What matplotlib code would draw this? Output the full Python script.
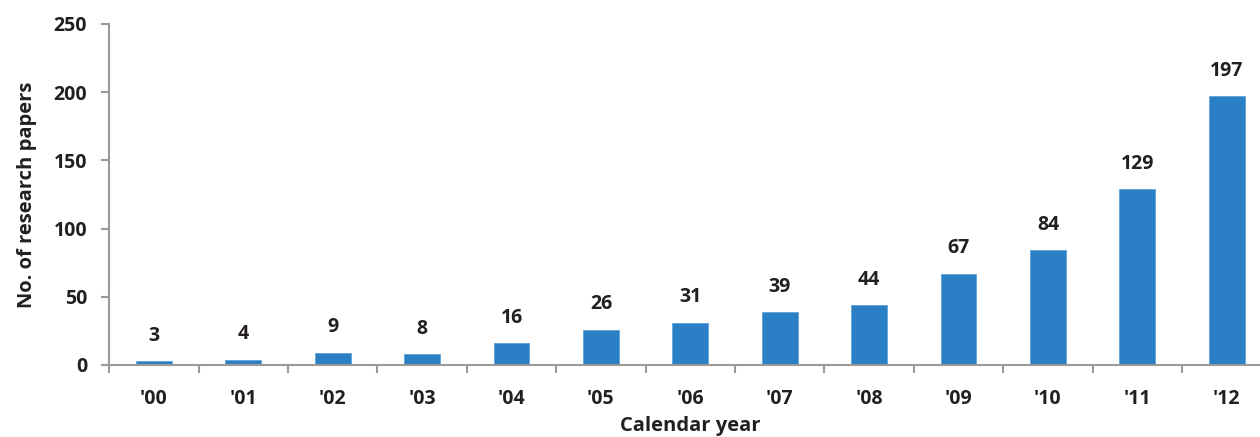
import numpy as np
import matplotlib.pyplot as plt

plt.rcParams['font.family'] = ['Open Sans', 'DejaVu Sans']

years = ["'00", "'01", "'02", "'03", "'04", "'05", "'06", "'07", "'08", "'09", "'10", "'11", "'12"]
papers = [3, 4, 9, 8, 16, 26, 31, 39, 44, 67, 84, 129, 197]

bar_color = '#2B80C5'
text_color = '#231F20'
axis_color = '#9A9A9A'


def draw_plot():
    fig = plt.figure(figsize=(12.6, 4.37), dpi=100)
    ax = fig.add_axes([0.0867, 0.1648, 0.9224, 0.7803])
    x = np.arange(len(years))
    ax.bar(x, papers, width=0.4, color=bar_color, edgecolor='#5FA3DA', linewidth=0.6, zorder=2)

    # value labels above bars
    for xi, v in zip(x, papers):
        ax.annotate(str(v), (xi, v), xytext=(0, 11), textcoords='offset points',
                    ha='center', va='bottom', fontsize=14, fontweight='bold', color=text_color)

    ax.set_xlim(-0.5, len(years) - 0.5)
    ax.set_ylim(0, 250)
    ax.set_yticks(range(0, 251, 50))
    ax.set_xticks(x)
    ax.set_xticklabels(years)
    ax.set_xticks(np.arange(-0.5, len(years), 1), minor=True)

    for s in ['top', 'right']:
        ax.spines[s].set_visible(False)
    for s in ['left', 'bottom']:
        ax.spines[s].set_color(axis_color)
        ax.spines[s].set_linewidth(1.5)

    ax.tick_params(axis='x', which='major', length=0, pad=17, labelsize=14, labelcolor=text_color)
    ax.tick_params(axis='x', which='minor', length=6, width=1.5, color=axis_color, direction='out')
    ax.tick_params(axis='y', length=6, width=1.5, color=axis_color, pad=10, labelsize=14, labelcolor=text_color)
    for lab in ax.get_xticklabels() + ax.get_yticklabels():
        lab.set_fontweight('bold')

    ax.set_xlabel('Calendar year', fontsize=14.5, fontweight='bold', color=text_color, labelpad=5)
    ax.set_ylabel('No. of research papers', fontsize=14.5, fontweight='bold', color=text_color, labelpad=12)

    fig.savefig('out.png', dpi=100)


if __name__ == '__main__':
    draw_plot()
